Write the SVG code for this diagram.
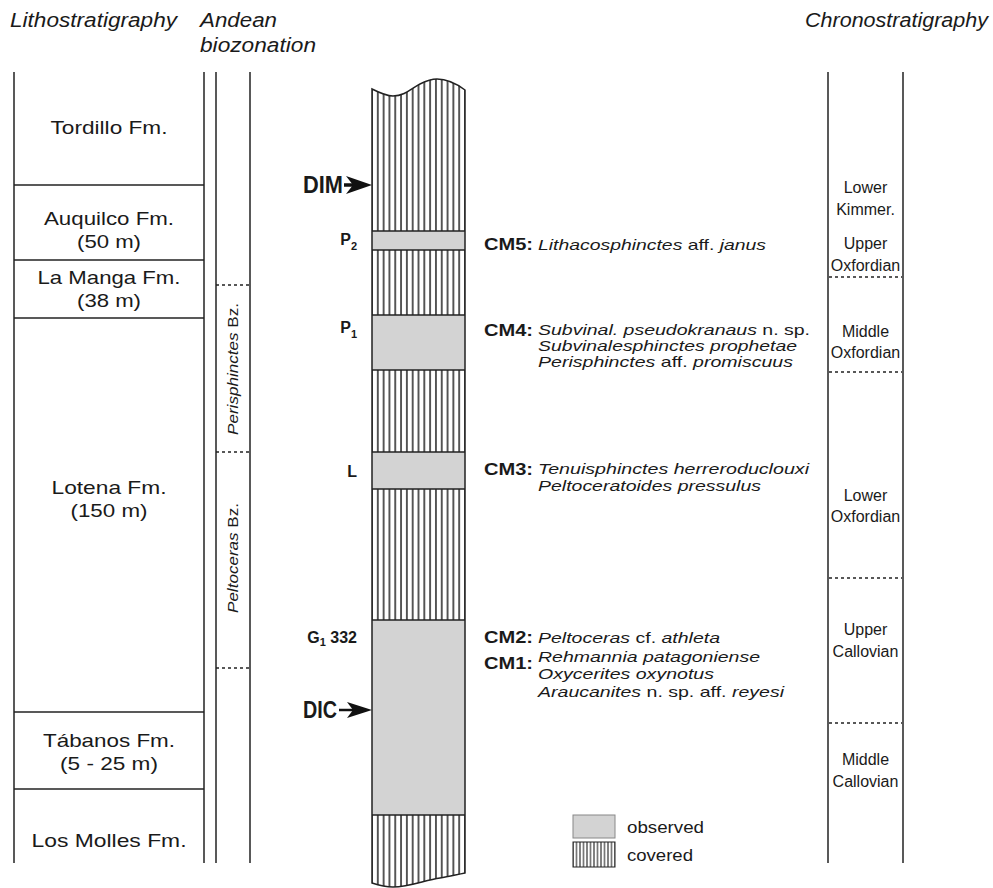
<svg xmlns="http://www.w3.org/2000/svg" width="993" height="888" viewBox="0 0 993 888">
<style>
text{font-family:"Liberation Sans",Arial,sans-serif;fill:#1a1a1a}
.hd{font-size:20px;font-style:italic}
.lt{font-size:19px;text-anchor:middle}
.bz{font-size:14px;text-anchor:middle}
.ch{font-size:16px;text-anchor:middle}
.cm{font-size:16px;font-weight:bold}
.sp{font-size:15px}
.i{font-style:italic}
.smp{font-size:16px;font-weight:bold;text-anchor:end}
.sub{font-size:11px}
.arr{font-size:23px;font-weight:bold}
.lg{font-size:16px}
.ln{stroke:#222;stroke-width:1.5;fill:none}
.dot{stroke:#222;stroke-width:1.3;stroke-dasharray:3 3;fill:none}
.band{fill:#d3d3d3}
</style>
<defs>
<pattern id="hatch" patternUnits="userSpaceOnUse" x="369.094" y="0" width="5.8125" height="10">
<line x1="2.906" y1="-1" x2="2.906" y2="11" stroke="#111" stroke-width="1.4"/>
</pattern>
<pattern id="hatchS" patternUnits="userSpaceOnUse" x="571.25" y="0" width="3.5" height="10">
<line x1="1.75" y1="-1" x2="1.75" y2="11" stroke="#111" stroke-width="1"/>
</pattern>
</defs>
<rect width="993" height="888" fill="#fff"/>

<g id="headers">
<text class="hd" x="10" y="27" textLength="167" lengthAdjust="spacingAndGlyphs">Lithostratigraphy</text>
<text class="hd" x="200" y="27" textLength="77" lengthAdjust="spacingAndGlyphs">Andean</text>
<text class="hd" x="200" y="52" textLength="116" lengthAdjust="spacingAndGlyphs">biozonation</text>
<text class="hd" x="805" y="27" textLength="183" lengthAdjust="spacingAndGlyphs">Chronostratigraphy</text>
</g>

<g id="lithostratigraphy">
<line class="ln" x1="14" y1="72" x2="14" y2="863"/>
<line class="ln" x1="204" y1="72" x2="204" y2="863"/>
<line class="ln" x1="14" y1="185" x2="204" y2="185"/>
<line class="ln" x1="14" y1="260" x2="204" y2="260"/>
<line class="ln" x1="14" y1="318" x2="204" y2="318"/>
<line class="ln" x1="14" y1="712" x2="204" y2="712"/>
<line class="ln" x1="14" y1="789" x2="204" y2="789"/>
<g id="tordillo"><text class="lt" x="109" y="134" textLength="117" lengthAdjust="spacingAndGlyphs">Tordillo Fm.</text></g>
<g id="auquilco"><text class="lt" x="109" y="225" textLength="130" lengthAdjust="spacingAndGlyphs">Auquilco Fm.</text>
<text class="lt" x="109" y="248" textLength="64" lengthAdjust="spacingAndGlyphs">(50 m)</text></g>
<g id="lamanga"><text class="lt" x="109" y="284" textLength="143" lengthAdjust="spacingAndGlyphs">La Manga Fm.</text>
<text class="lt" x="109" y="307" textLength="64" lengthAdjust="spacingAndGlyphs">(38 m)</text></g>
<g id="lotena"><text class="lt" x="109" y="494" textLength="115" lengthAdjust="spacingAndGlyphs">Lotena Fm.</text>
<text class="lt" x="109" y="517" textLength="77" lengthAdjust="spacingAndGlyphs">(150 m)</text></g>
<g id="tabanos"><text class="lt" x="109" y="747" textLength="132" lengthAdjust="spacingAndGlyphs">Tábanos Fm.</text>
<text class="lt" x="109" y="770" textLength="98" lengthAdjust="spacingAndGlyphs">(5 - 25 m)</text></g>
<g id="losmolles"><text class="lt" x="109" y="847" textLength="155" lengthAdjust="spacingAndGlyphs">Los Molles Fm.</text></g>
</g>

<g id="biozonation">
<line class="ln" x1="216" y1="72" x2="216" y2="863"/>
<line class="ln" x1="250" y1="72" x2="250" y2="863"/>
<line class="dot" x1="216" y1="285" x2="250" y2="285"/>
<line class="dot" x1="216" y1="452" x2="250" y2="452"/>
<line class="dot" x1="216" y1="668" x2="250" y2="668"/>
<g id="perisphinctes-bz"><text class="bz" transform="translate(238,369) rotate(-90)" textLength="132" lengthAdjust="spacingAndGlyphs"><tspan class="i">Perisphinctes</tspan> Bz.</text></g>
<g id="peltoceras-bz"><text class="bz" transform="translate(238,558) rotate(-90)" textLength="110" lengthAdjust="spacingAndGlyphs"><tspan class="i">Peltoceras</tspan> Bz.</text></g>
</g>

<g id="section">
<path d="M372,89 C380,93 386,96 393,96 C405,96 412,88 420,84 C428,80 432,79 437,79 C447,79 457,84 465,90 L465,873 C455,875 448,877 440,878 C425,880 410,887 393,887 C385,887 378,885 372,883 Z" fill="url(#hatch)"/>
<g id="band-p2"><rect class="band" x="372" y="231" width="93" height="19"/><line class="ln" x1="372" y1="231" x2="465" y2="231"/><line class="ln" x1="372" y1="250" x2="465" y2="250"/></g>
<g id="band-p1"><rect class="band" x="372" y="315" width="93" height="55"/><line class="ln" x1="372" y1="315" x2="465" y2="315"/><line class="ln" x1="372" y1="370" x2="465" y2="370"/></g>
<g id="band-l"><rect class="band" x="372" y="452" width="93" height="37"/><line class="ln" x1="372" y1="452" x2="465" y2="452"/><line class="ln" x1="372" y1="489" x2="465" y2="489"/></g>
<g id="band-g"><rect class="band" x="372" y="620" width="93" height="195"/><line class="ln" x1="372" y1="620" x2="465" y2="620"/><line class="ln" x1="372" y1="815" x2="465" y2="815"/></g>
<path class="ln" d="M372,89 C380,93 386,96 393,96 C405,96 412,88 420,84 C428,80 432,79 437,79 C447,79 457,84 465,90 L465,873 C455,875 448,877 440,878 C425,880 410,887 393,887 C385,887 378,885 372,883 Z"/>
</g>

<g id="sample-labels">
<text class="smp" x="357" y="245">P<tspan class="sub" dy="5">2</tspan></text>
<text class="smp" x="357" y="333">P<tspan class="sub" dy="5">1</tspan></text>
<text class="smp" x="357" y="477">L</text>
<text class="smp" x="357" y="643">G<tspan class="sub" dy="3">1</tspan><tspan dy="-3"> 332</tspan></text>
</g>

<g id="dim"><text class="arr" x="303" y="193" textLength="40" lengthAdjust="spacingAndGlyphs">DIM</text></g>
<g id="dic"><text class="arr" x="303" y="718" textLength="34" lengthAdjust="spacingAndGlyphs">DIC</text></g>

<g id="connectors">
<line x1="344" y1="185" x2="356" y2="185" stroke="#111" stroke-width="3.5"/>
<polygon points="372,185 346,176 353,185 346,194" fill="#111"/>
<line x1="339" y1="710" x2="356" y2="710" stroke="#111" stroke-width="2.5"/>
<polygon points="372,710 347,702 353,710 347,718" fill="#111"/>
</g>

<g id="cm5">
<text class="cm" x="484" y="250" textLength="49" lengthAdjust="spacingAndGlyphs">CM5:</text>
<text class="sp" x="538" y="250" textLength="228" lengthAdjust="spacingAndGlyphs"><tspan class="i">Lithacosphinctes</tspan> aff. <tspan class="i">janus</tspan></text>
</g>
<g id="cm4">
<text class="cm" x="484" y="336" textLength="49" lengthAdjust="spacingAndGlyphs">CM4:</text>
<text class="sp" x="538" y="335" textLength="272" lengthAdjust="spacingAndGlyphs"><tspan class="i">Subvinal. pseudokranaus</tspan> n. sp.</text>
<text class="sp i" x="538" y="351" textLength="259" lengthAdjust="spacingAndGlyphs">Subvinalesphinctes prophetae</text>
<text class="sp" x="538" y="367" textLength="255" lengthAdjust="spacingAndGlyphs"><tspan class="i">Perisphinctes</tspan> aff. <tspan class="i">promiscuus</tspan></text>
</g>
<g id="cm3">
<text class="cm" x="484" y="475" textLength="49" lengthAdjust="spacingAndGlyphs">CM3:</text>
<text class="sp i" x="538" y="474" textLength="271" lengthAdjust="spacingAndGlyphs">Tenuisphinctes herreroduclouxi</text>
<text class="sp i" x="538" y="491" textLength="223" lengthAdjust="spacingAndGlyphs">Peltoceratoides pressulus</text>
</g>
<g id="cm2">
<text class="cm" x="484" y="643" textLength="49" lengthAdjust="spacingAndGlyphs">CM2:</text>
<text class="sp" x="538" y="643" textLength="182" lengthAdjust="spacingAndGlyphs"><tspan class="i">Peltoceras</tspan> cf. <tspan class="i">athleta</tspan></text>
</g>
<g id="cm1">
<text class="cm" x="484" y="669" textLength="49" lengthAdjust="spacingAndGlyphs">CM1:</text>
<text class="sp i" x="538" y="662" textLength="222" lengthAdjust="spacingAndGlyphs">Rehmannia patagoniense</text>
<text class="sp i" x="538" y="679" textLength="176" lengthAdjust="spacingAndGlyphs">Oxycerites oxynotus</text>
<text class="sp" x="538" y="697" textLength="246" lengthAdjust="spacingAndGlyphs"><tspan class="i">Araucanites</tspan> n. sp. aff. <tspan class="i">reyesi</tspan></text>
</g>

<g id="chronostratigraphy">
<line class="ln" x1="828" y1="72" x2="828" y2="863"/>
<line class="ln" x1="903" y1="72" x2="903" y2="863"/>
<line class="dot" x1="829" y1="277" x2="902" y2="277"/>
<line class="dot" x1="829" y1="372" x2="902" y2="372"/>
<line class="dot" x1="829" y1="578" x2="902" y2="578"/>
<line class="dot" x1="829" y1="723" x2="902" y2="723"/>
<g id="lower-kimmer"><text class="ch" x="865.5" y="193">Lower</text><text class="ch" x="865.5" y="215">Kimmer.</text></g>
<g id="upper-oxf"><text class="ch" x="865.5" y="249">Upper</text><text class="ch" x="865.5" y="271">Oxfordian</text></g>
<g id="middle-oxf"><text class="ch" x="865.5" y="337">Middle</text><text class="ch" x="865.5" y="358">Oxfordian</text></g>
<g id="lower-oxf"><text class="ch" x="865.5" y="501">Lower</text><text class="ch" x="865.5" y="522">Oxfordian</text></g>
<g id="upper-call"><text class="ch" x="865.5" y="635">Upper</text><text class="ch" x="865.5" y="657">Callovian</text></g>
<g id="middle-call"><text class="ch" x="865.5" y="765">Middle</text><text class="ch" x="865.5" y="787">Callovian</text></g>
</g>

<g id="legend">
<rect x="573" y="815" width="42" height="23" fill="#d3d3d3" stroke="#888" stroke-width="1"/>
<rect x="573" y="842" width="42" height="25" fill="url(#hatchS)" stroke="#222" stroke-width="1"/>
<text class="lg" x="627" y="833" textLength="77" lengthAdjust="spacingAndGlyphs">observed</text>
<text class="lg" x="627" y="861" textLength="66" lengthAdjust="spacingAndGlyphs">covered</text>
</g>
</svg>
